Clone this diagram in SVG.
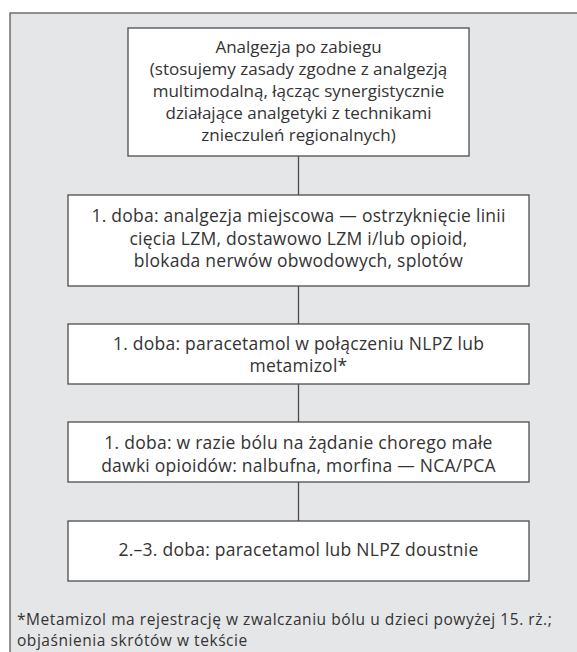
<svg xmlns="http://www.w3.org/2000/svg" width="577" height="652" viewBox="0 0 577 652">
<style>
.box{fill:#ffffff;stroke:#4d4d4d;stroke-width:1.3}
.t{font-family:"Open Sans","Noto Sans","Liberation Sans",sans-serif;font-size:17.5px;letter-spacing:0.25px;fill:#333333;text-anchor:middle}
.t1{font-family:"Open Sans","Noto Sans","Liberation Sans",sans-serif;font-size:17px;fill:#333333;text-anchor:middle}
.f{font-family:"Open Sans","Noto Sans","Liberation Sans",sans-serif;font-size:15.5px;letter-spacing:0.55px;fill:#333333}
.c{stroke:#4d4d4d;stroke-width:1.3;fill:none}
</style>
<rect id="frame" x="10" y="13" width="580" height="660" fill="#e5e6e8" stroke="#5a5a5a" stroke-width="1.3"/>
<g id="connectors">
<line class="c" x1="298.5" y1="156" x2="298.5" y2="195"/>
<line class="c" x1="298.5" y1="286" x2="298.5" y2="324"/>
<line class="c" x1="298.5" y1="384" x2="298.5" y2="422"/>
<line class="c" x1="298.5" y1="482" x2="298.5" y2="521"/>
</g>
<g id="node1">
<rect class="box" x="128" y="28" width="341" height="128"/>
<text class="t1" x="298.5" y="52.5">Analgezja po zabiegu</text>
<text class="t1" x="298.5" y="74.5">(stosujemy zasady zgodne z analgezją</text>
<text class="t1" x="298.5" y="96.5">multimodalną, łącząc synergistycznie</text>
<text class="t1" x="298.5" y="118.5">działające analgetyki z technikami</text>
<text class="t1" x="298.5" y="140.5">znieczuleń regionalnych)</text>
</g>
<g id="node2">
<rect class="box" x="68" y="195" width="461" height="91"/>
<text class="t" x="298.5" y="222">1. doba: analgezja miejscowa — ostrzyknięcie linii</text>
<text class="t" x="298.5" y="244.5">cięcia LZM, dostawowo LZM i/lub opioid,</text>
<text class="t" x="298.5" y="267">blokada nerwów obwodowych, splotów</text>
</g>
<g id="node3">
<rect class="box" x="68" y="324" width="461" height="60"/>
<text class="t" x="298.5" y="349.5">1. doba: paracetamol w połączeniu NLPZ lub</text>
<text class="t" x="298.5" y="372">metamizol*</text>
</g>
<g id="node4">
<rect class="box" x="68" y="422" width="461" height="60"/>
<text class="t" x="298.5" y="449">1. doba: w razie bólu na żądanie chorego małe</text>
<text class="t" x="298.5" y="471.5">dawki opioidów: nalbufna, morfina — NCA/PCA</text>
</g>
<g id="node5">
<rect class="box" x="68" y="521" width="461" height="60"/>
<text class="t" x="298.5" y="556">2.–3. doba: paracetamol lub NLPZ doustnie</text>
</g>
<g id="footnote">
<text class="f" x="17" y="624.5">*Metamizol ma rejestrację w zwalczaniu bólu u dzieci powyżej 15. rż.;</text>
<text class="f" x="17" y="646">objaśnienia skrótów w tekście</text>
</g>
</svg>
